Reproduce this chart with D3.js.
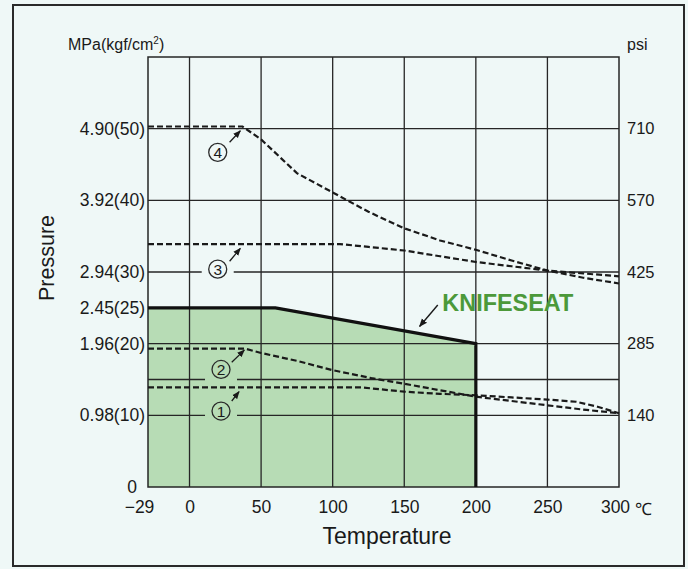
<!DOCTYPE html>
<html>
<head>
<meta charset="utf-8">
<script src="https://cdn.jsdelivr.net/npm/d3@7"></script>
<style>
  body { margin: 0; background: #eff8f7; }
  text { font-family: "Liberation Sans", Arial, sans-serif; fill: #1a1a1a; }
</style>
</head>
<body>
<div id="chart"></div>
<script>
var w = 688, h = 569;

// axis ticks
var tempTicks = [-29, 0, 50, 100, 150, 200, 250, 300];
var gridTemps = [0, 50, 100, 150, 200, 250];
var gridPress = [10, 15, 20, 30, 40, 50];
var leftTicks = [0, 10, 20, 25, 30, 40, 50];
var leftLabels = ["0", "0.98(10)", "1.96(20)", "2.45(25)", "2.94(30)", "3.92(40)", "4.90(50)"];
var psiTicks = [10, 20, 30, 40, 50];
var psiLabels = ["140", "285", "425", "570", "710"];

// curves, pressure in kgf/cm2 against temperature in deg C
var knifeTemp = [-29, 60, 200];
var knifePress = [25, 25, 20];

var line1Temp = [-29, 120, 150, 175, 200, 225, 250, 270, 285, 300];
var line1Press = [13.9, 13.9, 13.3, 13.0, 12.8, 12.5, 12.2, 11.9, 11.2, 10.3];
var line2Temp = [-29, 39, 50, 75, 100, 127, 150, 175, 200, 225, 250, 275, 300];
var line2Press = [19.3, 19.3, 18.7, 17.6, 16.3, 15.2, 14.4, 13.5, 12.6, 12.0, 11.4, 10.8, 10.3];
var line3Temp = [-29, 105, 125, 150, 175, 200, 225, 250, 275, 300];
var line3Press = [33.9, 33.9, 33.5, 33.0, 32.2, 31.4, 30.8, 30.2, 29.8, 29.4];
var line4Temp = [-29, 37, 50, 75, 100, 125, 150, 175, 200, 225, 250, 275, 300];
var line4Press = [50.3, 50.3, 48.5, 43.8, 41.1, 38.4, 36.1, 34.4, 33.1, 31.6, 30.2, 29.2, 28.4];

// curve number labels: centre, leader start, leader end
var labelNames = ["1", "2", "3", "4"];
var labelTemp = [22, 22, 19.7, 19.7];
var labelPress = [10.6, 16.4, 30.4, 46.7];
var leaderFrom = [[29.5, 12.0], [29.5, 17.4], [28, 31.5], [28, 48.1]];
var leaderTo = [[34.6, 13.3], [38.3, 19.1], [35.5, 33.3], [35.5, 49.7]];
var gapPress = [10, 15, 30, null];

var svg = d3.select("#chart").append("svg")
    .attr("width", w).attr("height", h);

var defs = svg.append("defs");
defs.append("marker")
    .attr("id", "arrow")
    .attr("viewBox", "0 0 10 10")
    .attr("refX", 9).attr("refY", 5)
    .attr("markerWidth", 6).attr("markerHeight", 6)
    .attr("orient", "auto")
  .append("path")
    .attr("d", "M0,1 L10,5 L0,9 z")
    .attr("fill", "#1a1a1a");

// outer frame
svg.append("rect")
    .attr("x", 13).attr("y", 5)
    .attr("width", 671).attr("height", 561)
    .attr("fill", "#eff8f7")
    .attr("stroke", "#2a2a2a").attr("stroke-width", 2);

var x = d3.scaleLinear().domain([-29, 300]).range([148, 619]);
var y = d3.scaleLinear().domain([0, 60]).range([487, 57]);

var bg = "#eff8f7", green = "#b7dcb5", ink = "#1a1a1a";

// knifeseat area
var knifeArea = knifeTemp.map(function(t, i) { return [t, knifePress[i]]; });
svg.append("path")
    .datum(knifeArea)
    .attr("fill", green)
    .attr("d", d3.area()
        .x(function(d) { return x(d[0]); })
        .y0(y(0))
        .y1(function(d) { return y(d[1]); }));

// grid
var grid = svg.append("g").attr("stroke", "#262626").attr("stroke-width", 1.3);
grid.selectAll(".gx").data(gridTemps).enter().append("line")
    .attr("x1", function(d) { return x(d); }).attr("x2", function(d) { return x(d); })
    .attr("y1", y(0)).attr("y2", y(60));
grid.selectAll(".gy").data(gridPress).enter().append("line")
    .attr("y1", function(d) { return y(d); }).attr("y2", function(d) { return y(d); })
    .attr("x1", x(-29)).attr("x2", x(300));
svg.append("rect")
    .attr("x", x(-29)).attr("y", y(60))
    .attr("width", x(300) - x(-29)).attr("height", y(0) - y(60))
    .attr("fill", "none").attr("stroke", "#262626").attr("stroke-width", 1.5);

// dashed curves
var line = d3.line()
    .x(function(d) { return x(d[0]); })
    .y(function(d) { return y(d[1]); });
var series = [[line1Temp, line1Press], [line2Temp, line2Press], [line3Temp, line3Press], [line4Temp, line4Press]];
svg.selectAll(".dash").data(series).enter().append("path")
    .attr("fill", "none")
    .attr("stroke", ink)
    .attr("stroke-width", 2.2)
    .attr("stroke-dasharray", "6,3")
    .attr("d", function(s) { return line(s[0].map(function(t, i) { return [t, s[1][i]]; })); });

// knifeseat boundary
svg.append("path")
    .datum(knifeArea.concat([[200, 0]]))
    .attr("fill", "none")
    .attr("stroke", "#111")
    .attr("stroke-width", 3.2)
    .attr("d", line);

// curve number labels
labelNames.forEach(function(n, i) {
    var cx = x(labelTemp[i]), cy = y(labelPress[i]);
    var inside = labelPress[i] < 25;
    if (gapPress[i] !== null) {
        svg.append("rect")
            .attr("x", cx - 16).attr("y", y(gapPress[i]) - 2)
            .attr("width", 32).attr("height", 4)
            .attr("fill", inside ? green : bg);
    }
    svg.append("circle")
        .attr("cx", cx).attr("cy", cy).attr("r", 9)
        .attr("fill", inside ? green : bg)
        .attr("stroke", "#2a2a2a").attr("stroke-width", 1.3);
    svg.append("text")
        .attr("x", cx).attr("y", cy + 5.5)
        .attr("text-anchor", "middle")
        .style("font-size", "15.5px")
        .text(n);
    svg.append("line")
        .attr("x1", x(leaderFrom[i][0])).attr("y1", y(leaderFrom[i][1]))
        .attr("x2", x(leaderTo[i][0])).attr("y2", y(leaderTo[i][1]))
        .attr("stroke", ink).attr("stroke-width", 1.3)
        .attr("marker-end", "url(#arrow)");
});

// KNIFESEAT label
svg.append("line")
    .attr("x1", x(173.4)).attr("y1", y(25.4))
    .attr("x2", x(160.7)).attr("y2", y(22.4))
    .attr("stroke", ink).attr("stroke-width", 1.4)
    .attr("marker-end", "url(#arrow)");
svg.append("text")
    .attr("x", x(176.6)).attr("y", y(24.6))
    .style("font-size", "23px").style("font-weight", "bold")
    .style("fill", "#4c993a")
    .attr("textLength", 131).attr("lengthAdjust", "spacingAndGlyphs")
    .text("KNIFESEAT");

// left axis labels
var left = svg.append("g")
    .attr("transform", "translate(" + x(-29) + ",0)")
    .call(d3.axisLeft(y).tickValues(leftTicks).tickSize(0).tickPadding(3)
        .tickFormat(function(d, i) { return leftLabels[i]; }));
left.select(".domain").remove();
left.selectAll("text")
    .style("font-size", "17.5px").style("font-family", "Liberation Sans, Arial, sans-serif")
    .attr("fill", ink)
    .attr("x", function(d) { return d === 0 ? -11 : -3; });

// right axis labels
var right = svg.append("g")
    .attr("transform", "translate(" + x(300) + ",0)")
    .call(d3.axisRight(y).tickValues(psiTicks).tickSize(0).tickPadding(8)
        .tickFormat(function(d, i) { return psiLabels[i]; }));
right.select(".domain").remove();
right.selectAll("text")
    .style("font-size", "16.5px").style("font-family", "Liberation Sans, Arial, sans-serif")
    .attr("fill", ink);

// bottom axis labels
var bottom = svg.append("g")
    .attr("transform", "translate(0," + y(0) + ")")
    .call(d3.axisBottom(x).tickValues(tempTicks).tickSize(0).tickPadding(14)
        .tickFormat(function(d) { return d < 0 ? "\u2212" + Math.abs(d) : d; }));
bottom.select(".domain").remove();
bottom.selectAll("text")
    .style("font-size", "17.5px").style("font-family", "Liberation Sans, Arial, sans-serif")
    .attr("fill", ink)
    .attr("x", function(d) { return d < 0 ? -9 : (d === 300 ? -4 : 0); });

svg.append("text")
    .attr("x", 635).attr("y", 515)
    .style("font-size", "17px")
    .text("\u2103");

// axis titles
svg.append("text")
    .attr("x", 387).attr("y", 544)
    .attr("text-anchor", "middle")
    .style("font-size", "23px")
    .text("Temperature");
svg.append("text")
    .attr("transform", "translate(54,258) rotate(-90)")
    .attr("text-anchor", "middle")
    .style("font-size", "21.5px")
    .text("Pressure");

var unit = svg.append("text")
    .attr("x", 68).attr("y", 50)
    .style("font-size", "16px");
unit.append("tspan").text("MPa(kgf/cm");
unit.append("tspan").attr("dy", -6).style("font-size", "10px").text("2");
unit.append("tspan").attr("dy", 6).text(")");

svg.append("text")
    .attr("x", 627).attr("y", 50)
    .style("font-size", "16px")
    .text("psi");
</script>
</body>
</html>
